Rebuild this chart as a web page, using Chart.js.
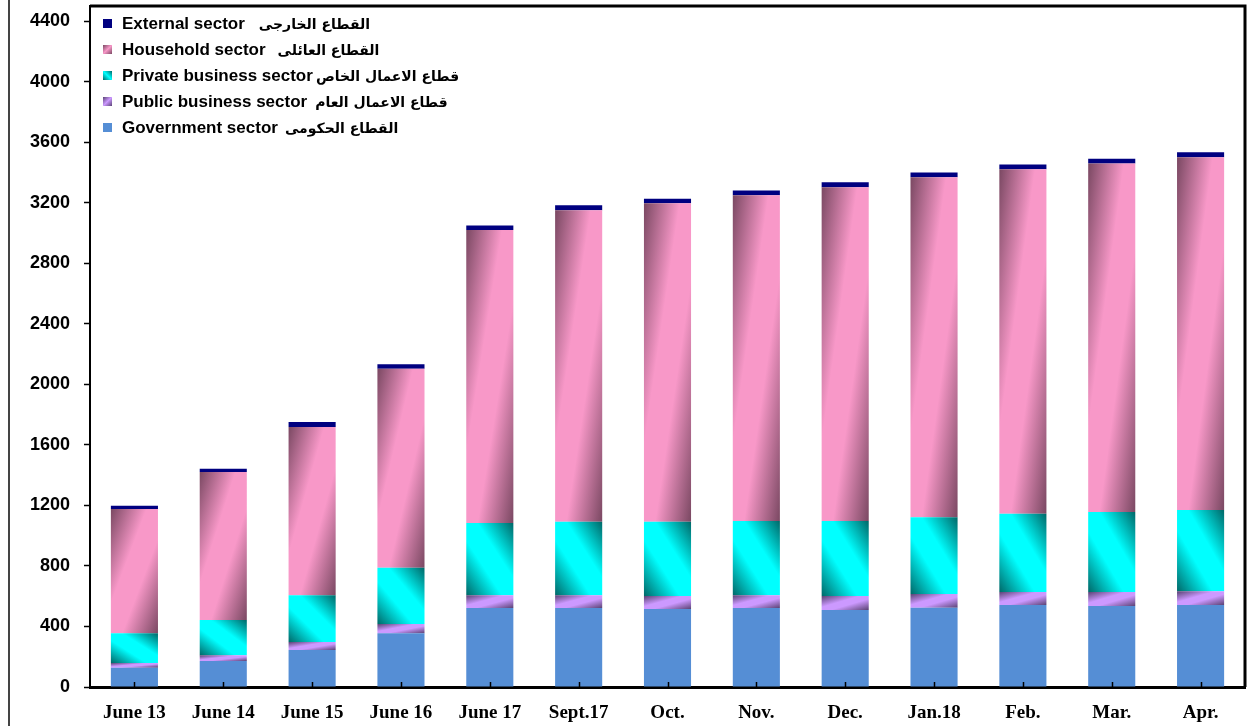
<!DOCTYPE html>
<html lang="en">
<head>
    <meta charset="UTF-8">
    <title>Credit by sector</title>
    <style>
        html, body { margin: 0; padding: 0; background: #fff; }
        #wrap { position: relative; width: 1255px; height: 726px; }
        #legend { position: absolute; left: 103px; top: 14px; margin: 0; padding: 0; list-style: none;
                  font-family: "Liberation Sans", Arial, sans-serif; font-weight: bold; font-size: 17px; color: #000; }
        #legend li { height: 26px; line-height: 20px; white-space: nowrap; }
        #legend .sw { display: inline-block; width: 9px; height: 9px; margin-right: 10px; vertical-align: 1px; }
        #legend .ar { font-family: "DejaVu Sans", sans-serif; font-size: 14px; }
    </style>
</head>
<body>

    <div id="wrap">
        <canvas id="sectorChart"></canvas>
        <ul id="legend"></ul>
    </div>

    <script src="https://cdn.jsdelivr.net/npm/chart.js"></script>

    <script>
        const categories = ['June 13', 'June 14', 'June 15', 'June 16', 'June 17', 'Sept.17', 'Oct.', 'Nov.', 'Dec.', 'Jan.18', 'Feb.', 'Mar.', 'Apr.'];
        const government = [128, 172, 244, 355, 522, 522, 515, 522, 509, 524, 542, 535, 542];
        const publicBusiness = [31, 37, 53, 61, 84, 84, 86, 84, 92, 90, 86, 93, 90];
        const privateBusiness = [196, 234, 309, 372, 477, 486, 491, 491, 496, 507, 517, 528, 537];
        const household = [821, 977, 1112, 1315, 1936, 2059, 2104, 2153, 2206, 2248, 2277, 2303, 2332];
        const external = [22, 22, 33, 29, 31, 33, 30, 31, 32, 31, 31, 31, 32];
        const seriesNames = ['Government sector', 'Public business sector', 'Private business sector', 'Household sector', 'External sector'];
        const seriesNamesAr = ['القطاع الحكومى', 'قطاع الاعمال العام', 'قطاع الاعمال الخاص', 'القطاع العائلى', 'القطاع الخارجى'];
        const arabicGap = [7, 8, 3, 12, 14];
        const yTicks = [0, 400, 800, 1200, 1600, 2000, 2400, 2800, 3200, 3600, 4000, 4400];

        // diagonal shading like the spreadsheet fill, stretched to each bar
        const gradientBars = {
            id: 'gradientBars',
            beforeDatasetsDraw(chart) {
                const ctx = chart.ctx;
                chart.data.datasets.forEach((ds, i) => {
                    if (!ds.shade) return;
                    chart.getDatasetMeta(i).data.forEach(bar => {
                        const w = bar.width;
                        const h = Math.abs(bar.base - bar.y);
                        if (!h) return;
                        const left = bar.x - w / 2;
                        const top = Math.min(bar.y, bar.base);
                        const s = 2 * w * h / (w * w + h * h);
                        const g = ds.shade.fromRight
                            ? ctx.createLinearGradient(left + w, top, left + w - h * s, top + w * s)
                            : ctx.createLinearGradient(left, top, left + h * s, top + w * s);
                        g.addColorStop(0, ds.shade.dark);
                        g.addColorStop(ds.shade.a, ds.shade.light);
                        g.addColorStop(ds.shade.b, ds.shade.light);
                        g.addColorStop(1, ds.shade.dark);
                        bar.options.backgroundColor = g;
                    });
                });
            },
            afterDraw(chart) {
                const ctx = chart.ctx;
                const a = chart.chartArea;
                const xs = chart.scales.x;
                ctx.save();
                ctx.strokeStyle = '#000';
                ctx.lineWidth = 3;
                ctx.beginPath();
                ctx.moveTo(a.left, a.top);
                ctx.lineTo(a.right, a.top);
                ctx.lineTo(a.right, a.bottom);
                ctx.stroke();
                // small inward tick marks on the category axis
                ctx.lineWidth = 1.5;
                ctx.beginPath();
                xs.ticks.forEach((t, i) => {
                    const px = Math.round(xs.getPixelForTick(i)) + 0.5;
                    ctx.moveTo(px, a.bottom);
                    ctx.lineTo(px, a.bottom - 5);
                });
                ctx.stroke();
                ctx.lineWidth = 2;
                ctx.strokeStyle = '#444';
                ctx.beginPath();
                ctx.moveTo(9, 0);
                ctx.lineTo(9, 726);
                ctx.stroke();
                ctx.restore();
            }
        };

        const solid = c => () => c;

        const ctx = document.getElementById('sectorChart').getContext('2d');
        const sectorChart = new Chart(ctx, {
            type: 'bar',
            data: {
                labels: categories,
                datasets: [
                    { label: seriesNames[0], data: government, backgroundColor: solid('#558ed5'),
                      swatch: '#558ed5' },
                    { label: seriesNames[1], data: publicBusiness, backgroundColor: solid('#b48ae6'),
                      swatch: 'linear-gradient(135deg, #5a4374, #cc99ff 50%, #5a4374)',
                      shade: { dark: '#5a4374', light: '#cc99ff', a: 0.4, b: 0.6 } },
                    { label: seriesNames[2], data: privateBusiness, backgroundColor: solid('#00e0e0'),
                      swatch: 'linear-gradient(45deg, #006868, #00ffff 50%, #006868)',
                      shade: { dark: '#006868', light: '#00ffff', a: 0.38, b: 0.62, fromRight: true } },
                    { label: seriesNames[3], data: household, backgroundColor: solid('#e08ab4'),
                      swatch: 'linear-gradient(135deg, #7a4862, #f898c8 50%, #7a4862)',
                      shade: { dark: '#7a4862', light: '#f898c8', a: 0.38, b: 0.62 } },
                    { label: seriesNames[4], data: external, backgroundColor: solid('#000080'),
                      swatch: '#000080' }
                ].map(d => Object.assign(d, { borderWidth: 0, barPercentage: 0.53, categoryPercentage: 1 }))
            },
            options: {
                responsive: true,
                maintainAspectRatio: false,
                animation: false,
                layout: { autoPadding: false, padding: { top: 6, right: 10, bottom: 0, left: 0 } },
                scales: {
                    x: {
                        stacked: true,
                        grid: { display: false, drawTicks: false },
                        border: { color: '#000', width: 3 },
                        ticks: {
                            color: '#000',
                            padding: 15,
                            maxRotation: 0,
                            autoSkip: false,
                            font: { family: '"Liberation Serif", "Times New Roman", serif', size: 19, weight: 'bold' }
                        },
                        afterFit: s => { s.height = 39; s.paddingLeft = 0; s.paddingRight = 0; }
                    },
                    y: {
                        stacked: true,
                        min: 0,
                        max: 4500,
                        grid: { drawOnChartArea: false, drawTicks: true, tickLength: 6, tickColor: '#000', tickWidth: 1.5 },
                        border: { color: '#000', width: 2 },
                        ticks: {
                            color: '#000',
                            padding: 14,
                            callback: v => String(v),
                            font: { family: '"Liberation Sans", Arial, sans-serif', size: 18, weight: 'bold' }
                        },
                        afterBuildTicks: s => { s.ticks = yTicks.map(v => ({ value: v })); },
                        afterFit: s => { s.width = 90; s.paddingTop = 0; s.paddingBottom = 0; }
                    }
                },
                plugins: {
                    legend: { display: false },
                    tooltip: { enabled: false }
                }
            },
            plugins: [gradientBars]
        });

        // legend list, top series first, like the original
        const legendEl = document.getElementById('legend');
        sectorChart.data.datasets.slice().reverse().forEach((ds, k) => {
            const i = sectorChart.data.datasets.length - 1 - k;
            const li = document.createElement('li');
            const sw = document.createElement('span');
            sw.className = 'sw';
            sw.style.background = ds.swatch;
            const en = document.createElement('span');
            en.textContent = ds.label;
            const ar = document.createElement('span');
            ar.className = 'ar';
            ar.lang = 'ar';
            ar.style.marginLeft = arabicGap[i] + 'px';
            ar.textContent = seriesNamesAr[i];
            li.append(sw, en, ar);
            legendEl.appendChild(li);
        });
    </script>

</body>
</html>
